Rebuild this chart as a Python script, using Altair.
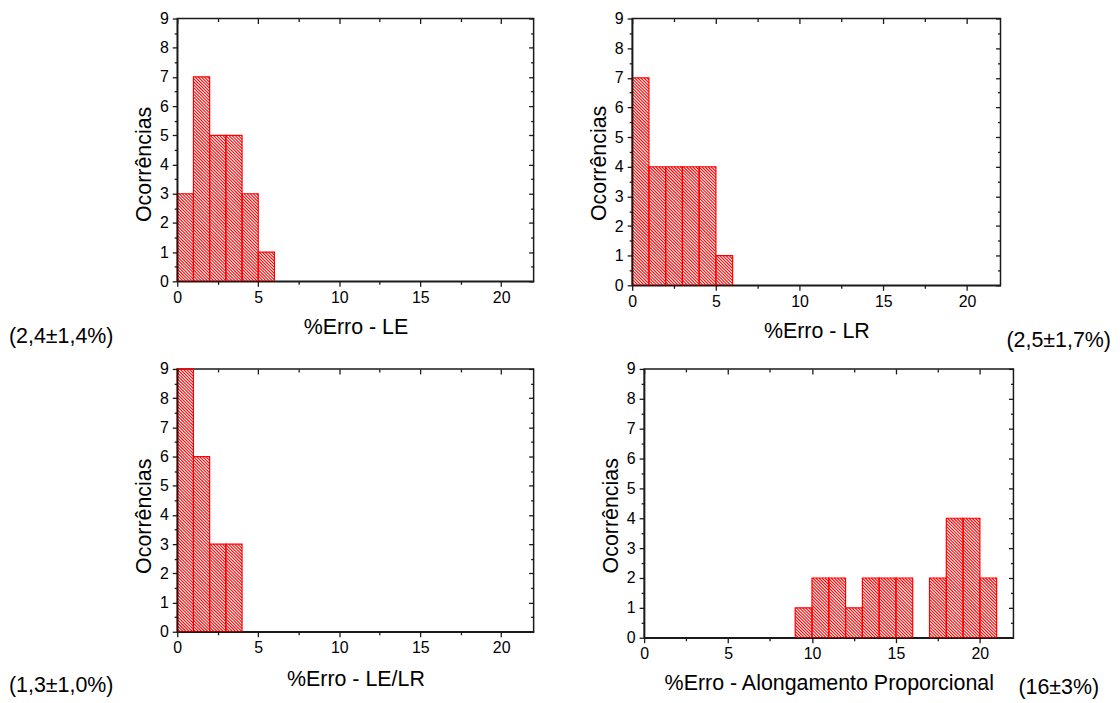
import altair as alt
import pandas as pd

# ---------------- data ----------------
LE_BIN_START = [0, 1, 2, 3, 4, 5]
LE_COUNTS = [3, 7, 5, 5, 3, 1]
LR_BIN_START = [0, 1, 2, 3, 4, 5]
LR_COUNTS = [7, 4, 4, 4, 4, 1]
LELR_BIN_START = [0, 1, 2, 3]
LELR_COUNTS = [9, 6, 3, 3]
AL_BIN_START = [9, 10, 11, 12, 13, 14, 15, 17, 18, 19, 20]
AL_COUNTS = [1, 2, 2, 1, 2, 2, 2, 2, 4, 4, 2]
BIN_WIDTH = 1

X_TITLES = ["%Erro - LE", "%Erro - LR", "%Erro - LE/LR",
            "%Erro - Alongamento Proporcional"]
NOTES = ["(2,4±1,4%)", "(2,5±1,7%)", "(1,3±1,0%)", "(16±3%)"]
Y_TITLE = "Ocorrências"
X_MAJOR = [0, 5, 10, 15, 20]
X_MINOR = [2.5, 7.5, 12.5, 17.5]
Y_MAJOR = [0, 1, 2, 3, 4, 5, 6, 7, 8, 9]
Y_MINOR = [0.5, 1.5, 2.5, 3.5, 4.5, 5.5, 6.5, 7.5, 8.5]
X_DOMAIN = [0, 22]
Y_DOMAIN = [0, 9]

FONT = "Liberation Sans"
INK = "#1a1a1a"
RED = "#ff0000"
HATCH_PX = 3.1  # horizontal spacing of the hatch lines, in pixels


def panel(starts, counts, xtitle, note, w, h, xt_y, yt_y, note_x, note_y):
    df = pd.DataFrame({"start": starts, "count": counts})
    df["end"] = df["start"] + BIN_WIDTH
    xs = alt.Scale(domain=X_DOMAIN, nice=False, zero=False)
    ys = alt.Scale(domain=Y_DOMAIN, nice=False)
    base = alt.Chart(df)

    px_x = w / (X_DOMAIN[1] - X_DOMAIN[0])   # pixels per x unit
    px_y = h / (Y_DOMAIN[1] - Y_DOMAIN[0])   # pixels per y unit
    D = HATCH_PX / px_x                      # hatch spacing in x units
    R = px_y / px_x                          # y unit expressed in x units

    # "\" hatch lines clipped to each bar, derived from the bar data
    hatch = (
        base.transform_calculate(
            seq=f"sequence(ceil(datum.start/{D}), floor((datum.end + datum.count*{R})/{D}) + 1)"
        )
        .transform_flatten(["seq"])
        .transform_calculate(k=f"datum.seq*{D}")
        .transform_calculate(
            hx1=f"max(datum.start, datum.k - datum.count*{R})",
            hx2="min(datum.end, datum.k)",
        )
        .transform_calculate(
            hy1=f"(datum.k - datum.hx1)/{R}",
            hy2=f"(datum.k - datum.hx2)/{R}",
        )
        .transform_filter("datum.hx1 < datum.hx2")
        .mark_rule(color=RED, strokeWidth=1.1)
        .encode(
            x=alt.X("hx1:Q", scale=xs, axis=None),
            x2="hx2:Q",
            y=alt.Y("hy1:Q", scale=ys, axis=None),
            y2="hy2:Q",
        )
    )
    bars = base.mark_rect(fill="white", fillOpacity=0, stroke=RED,
                          strokeWidth=1.2).encode(
        x=alt.X("start:Q", scale=xs, axis=None),
        x2="end:Q",
        y=alt.Y("count:Q", scale=ys, axis=None),
        y2=alt.datum(0),
    )

    common = dict(tickColor=INK, tickWidth=1.3, domainColor=INK,
                  domainWidth=1.5, grid=False, zindex=1,
                  labelFont=FONT, labelFontSize=16, labelColor="black",
                  titleFont=FONT, titleFontSize=21.5, titleColor="black",
                  titleFontWeight="normal")

    major = base.mark_point(opacity=0).encode(
        x=alt.X("start:Q", scale=xs, title=xtitle,
                axis=alt.Axis(orient="bottom", values=X_MAJOR, tickSize=5,
                              labelPadding=3, format="d", labelFlush=False,
                              titleX=w / 2, titleY=xt_y, titleAlign="center",
                              titleBaseline="alphabetic", **common)),
        y=alt.Y("count:Q", scale=ys, title=Y_TITLE,
                axis=alt.Axis(orient="left", values=Y_MAJOR, tickSize=5,
                              labelPadding=4, format="d", labelFlush=False,
                              titleAngle=270, titleX=-27, titleY=yt_y,
                              titleAlign="center", titleBaseline="alphabetic",
                              **common)),
    )
    minor = base.mark_point(opacity=0).encode(
        x=alt.X("start:Q", scale=xs, title=None,
                axis=alt.Axis(orient="bottom", values=X_MINOR, tickSize=3,
                              labels=False, domain=False, **common)),
        y=alt.Y("count:Q", scale=ys, title=None,
                axis=alt.Axis(orient="left", values=Y_MINOR, tickSize=3,
                              labels=False, domain=False, **common)),
    )
    top_major = base.mark_point(opacity=0).encode(
        x=alt.X("start:Q", scale=xs, title=None,
                axis=alt.Axis(orient="top", values=X_MAJOR, tickSize=5,
                              offset=-5, labels=False, domain=False, **common)),
        y=alt.Y("count:Q", scale=ys, title=None,
                axis=alt.Axis(orient="right", values=Y_MAJOR, tickSize=5,
                              offset=-5, labels=False, domain=False, **common)),
    )
    top_minor = base.mark_point(opacity=0).encode(
        x=alt.X("start:Q", scale=xs, title=None,
                axis=alt.Axis(orient="top", values=X_MINOR, tickSize=3,
                              offset=-3, labels=False, domain=False, **common)),
        y=alt.Y("count:Q", scale=ys, title=None,
                axis=alt.Axis(orient="right", values=Y_MINOR, tickSize=3,
                              offset=-3, labels=False, domain=False, **common)),
    )
    txt = alt.Chart(pd.DataFrame({"t": [note]})).mark_text(
        align="left", baseline="alphabetic", font=FONT, fontSize=21.5,
        color="black"
    ).encode(text="t:N", x=alt.value(note_x), y=alt.value(note_y))

    return (
        alt.layer(hatch, bars, major, minor, top_major, top_minor, txt)
        .resolve_scale(x="shared", y="shared")
        .resolve_axis(x="independent", y="independent")
        .properties(width=w, height=h)
    )


p1 = panel(LE_BIN_START, LE_COUNTS, X_TITLES[0], NOTES[0],
           358, 264, 52, 146, -169, 326)
p2 = panel(LR_BIN_START, LR_COUNTS, X_TITLES[1], NOTES[1],
           370, 268, 52, 145, 376, 330)
p3 = panel(LELR_BIN_START, LELR_COUNTS, X_TITLES[2], NOTES[2],
           358, 264, 54, 147.5, -169, 325)
p4 = panel(AL_BIN_START, AL_COUNTS, X_TITLES[3], NOTES[3],
           371, 270, 52, 147, 376, 327)

row1 = alt.hconcat(p1, p2, spacing=52)
row2 = alt.hconcat(p3, p4, spacing=64)

chart = (
    alt.vconcat(row1, row2, spacing=7)
    .properties(padding=0, background="white")
    .configure_view(stroke=INK, strokeWidth=1.5)
)

chart.save("out.html", embed_options={"renderer": "svg", "actions": False})
